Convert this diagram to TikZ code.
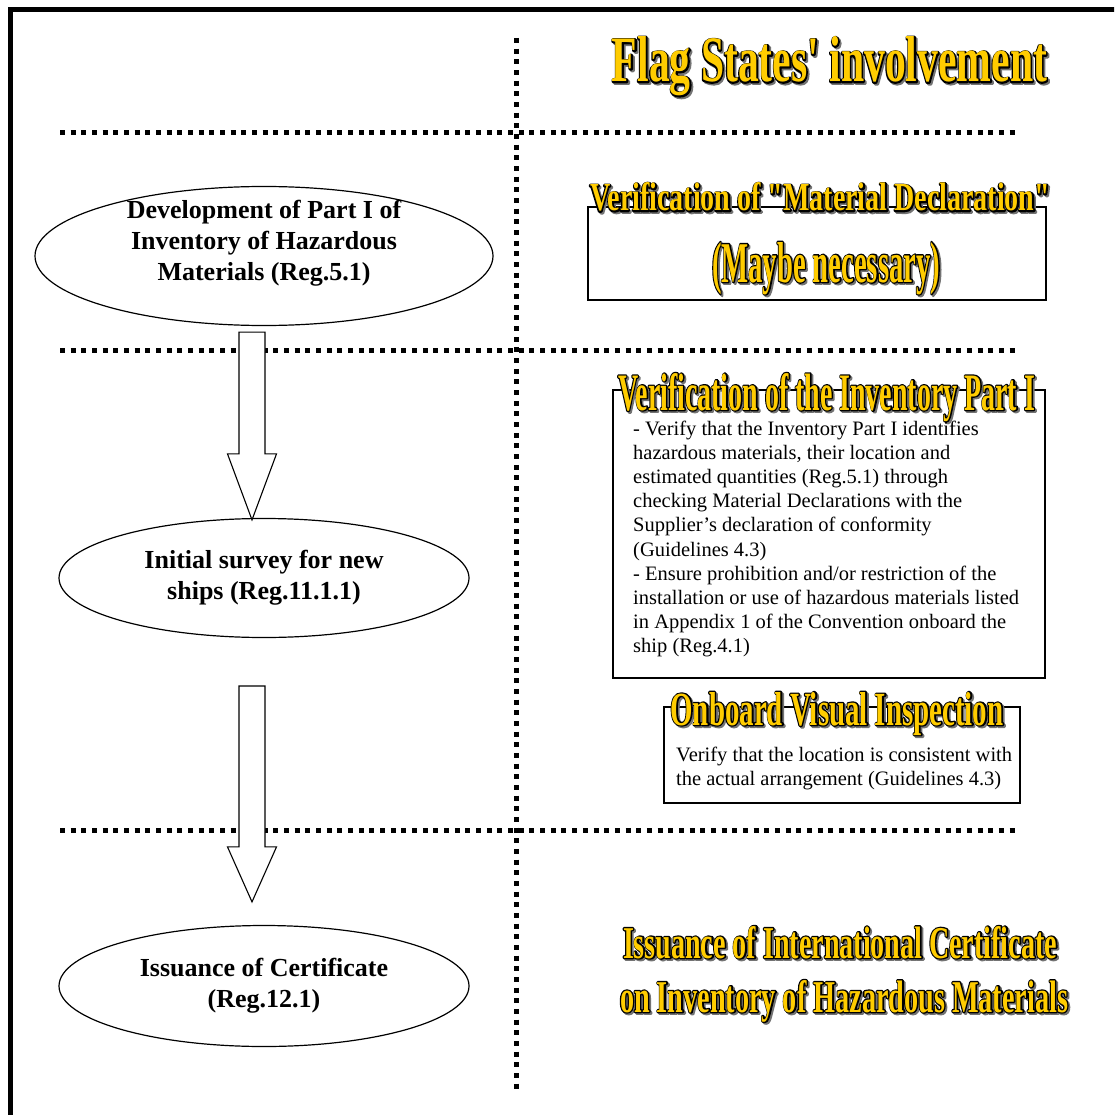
\documentclass[tikz,border=0pt]{standalone}
\usepackage{fontspec}
\setmainfont{Liberation Serif}
\newfontfamily\titlefont{Liberation Serif}[Ligatures=TeXOff, FakeStretch=0.62]
\usetikzlibrary{shapes.geometric,calc}
\definecolor{gold}{RGB}{255,204,0}

% condensed bold heading squeezed to a given size, drawn in a given PDF
% text rendering mode: width, height, font size, mode operators, text
\newcommand\headbox[5]{%
  \resizebox{#1pt}{#2pt}{\titlefont\bfseries\fontsize{#3}{#3}\selectfont
    \special{pdf:literal direct #4}#5\special{pdf:literal direct 0 Tr}}}

% gold heading: a soft shadow, a dark stroked outline and the gold letters
% on top: name, position, width, height, font size, text
\newcommand\heading[6]{%
  \node[headshadow] at ([shift={(1.7,1.7)}]#2) {\headbox{#3}{#4}{#5}{2 Tr 2.6 w 1 j}{#6}};
  \node[headline] at (#2) {\headbox{#3}{#4}{#5}{1 Tr 2.6 w 1 j}{#6}};
  \node[headfill] (#1) at (#2) {\headbox{#3}{#4}{#5}{0 Tr}{#6}};}

% hollow block arrow from a start point down to a tip
\newcommand\hollowarrow[3]{%
  \draw[hollow] ($(#1)+(-13,0)$) -- ($(#2)+(-13,-#3)$) -- ($(#2)+(-24.5,-#3)$)
    -- (#2) -- ($(#2)+(24.5,-#3)$) -- ($(#2)+(13,-#3)$) -- ($(#1)+(13,0)$) -- cycle;}

\begin{document}
\begin{tikzpicture}[x=1pt,y=-1pt,
  frame/.style={line width=5pt},
  dotline/.style={line width=5pt, dash pattern=on 5pt off 5.67pt},
  stage/.style={ellipse, draw, line width=1.2pt, inner sep=0pt},
  stagetext/.style={align=center, inner sep=0pt,
    font=\fontsize{26}{31}\selectfont\bfseries},
  hollow/.style={draw, line width=1.1pt, fill=white},
  panel/.style={draw, line width=1.2pt},
  bodytext/.style={anchor=base west, inner sep=0pt,
    font=\fontsize{20.5}{24.2}\selectfont},
  headshadow/.style={anchor=base, inner sep=0pt, text=black!55},
  headline/.style={anchor=base, inner sep=0pt, text=black},
  headfill/.style={anchor=base, inner sep=0pt, text=gold}]

\useasboundingbox (0,0) rectangle (1114,1115);
\fill[white] (0,0) rectangle (1114,1115);

% outer frame, running off the right and bottom edges
\begin{scope}
  \clip (0,0) rectangle (1114,1115);
  \draw[frame] (10,10) rectangle (1135,1135);
\end{scope}

% dotted separators
\draw[dotline] (516,38) -- (516,1090);
\draw[dotline] (60,133) -- (1016,133);
\draw[dotline] (60,350) -- (1016,350);
\draw[dotline] (60,830) -- (1016,830);

% left column: process stages
\node[stage, minimum width=458pt, minimum height=139pt] (dev) at (264,256) {};
\node[stagetext] (devtext) at (264,243) {Development of Part I of\\Inventory of Hazardous\\Materials (Reg.5.1)};

\node[stage, minimum width=410pt, minimum height=119pt, stagetext] (survey) at (264,578)
  {Initial survey for new\\ships (Reg.11.1.1)};

\node[stage, minimum width=410pt, minimum height=121pt, stagetext] (cert) at (264,986)
  {Issuance of Certificate\\(Reg.12.1)};

\coordinate (a1top) at ($(dev.south)+(-12,6)$);
\coordinate (a1tip) at ($(survey.north)+(-12,2)$);
\coordinate (a2top) at (252,686);
\coordinate (a2tip) at ($(cert.north)+(-12,-23)$);
\hollowarrow{a1top}{a1tip}{66}
\hollowarrow{a2top}{a2tip}{55}

% right column: flag state tasks
\heading{flag}{829.5,82}{435}{45}{65}{Flag States' involvement}

\draw[panel] (588,207) rectangle (1046,300);
\heading{mdtitle}{820,211}{460}{28}{40.6}{Verification of "Material Declaration"}
\heading{mdnote}{826,282}{228}{40}{58}{(Maybe necessary)}

\draw[panel] (613,390) rectangle (1045,678);
\heading{invtitle}{826.5,410}{417}{37}{53.6}{Verification of the Inventory Part I}
\node[bodytext] (invbody) at (633,435) {\parbox[t]{405pt}{\raggedright
- Verify that the Inventory Part I identifies\\
hazardous materials, their location and\\
estimated quantities (Reg.5.1) through\\
checking Material Declarations with the\\
Supplier’s declaration of conformity\\
(Guidelines 4.3)\\
- Ensure prohibition and/or restriction of the\\
installation or use of hazardous materials listed\\
in Appendix 1 of the Convention onboard the\\
ship (Reg.4.1)}};

\draw[panel] (664,707) rectangle (1020,803);
\heading{vistitle}{837,725}{333}{33}{48}{Onboard Visual Inspection}
\node[bodytext] (visbody) at (676,761) {\parbox[t]{340pt}{\raggedright
Verify that the location is consistent with\\
the actual arrangement (Guidelines 4.3)}};

\heading{certtitle}{840,958}{434}{32}{46.4}{Issuance of International Certificate}
\heading{certtitleb}{844,1012}{448}{32}{46.4}{on Inventory of Hazardous Materials}

\end{tikzpicture}
\end{document}
